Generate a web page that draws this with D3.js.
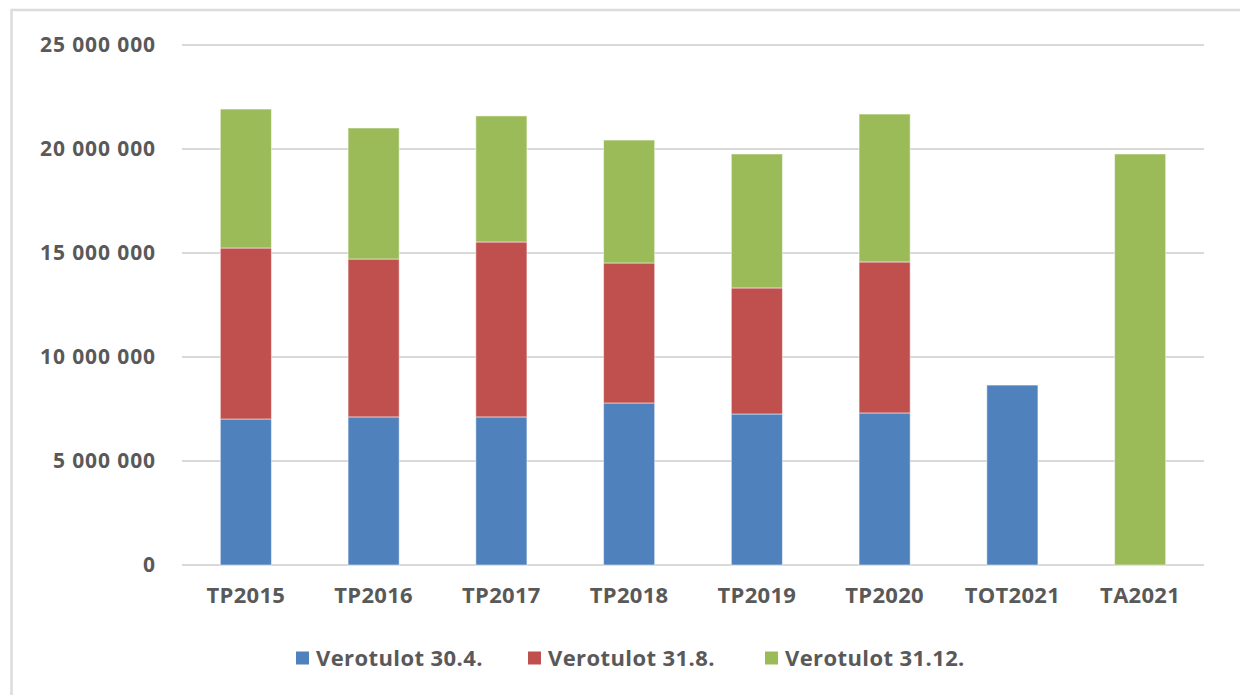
<!DOCTYPE html>
<html>
<head>
<meta charset="utf-8">
<script src="https://cdn.jsdelivr.net/npm/d3@7"></script>
<style>
  body { margin: 0; background: #fff; }
  text { font-family: "Open Sans", "Liberation Sans", sans-serif; font-weight: bold; fill: #595959; }
</style>
</head>
<body>
<div id="chart"></div>
<script>
var width = 1240,
    height = 695;

// data
var categories = ["TP2015", "TP2016", "TP2017", "TP2018", "TP2019", "TP2020", "TOT2021", "TA2021"];
var seriesNames = ["Verotulot 30.4.", "Verotulot 31.8.", "Verotulot 31.12."];
var april = [7020000, 7120000, 7120000, 7790000, 7260000, 7310000, 8650000, 0];
var august = [8220000, 7590000, 8410000, 6730000, 6060000, 7260000, 0, 0];
var december = [6680000, 6300000, 6060000, 5910000, 6440000, 7110000, 0, 19760000];
var yTicks = [0, 5000000, 10000000, 15000000, 20000000, 25000000];
var colors = ["#4F81BD", "#C0504D", "#9BBB59"];

var svg = d3.select("#chart")
      .append("svg")
      .attr("width", width)
      .attr("height", height);

// outer frame
svg.append("path")
  .attr("d", "M11.5," + height + "V10H" + width)
  .attr("fill", "none")
  .attr("stroke", "#dcdcdc")
  .attr("stroke-width", 2.5);

var x = d3.scaleBand()
    .domain(categories)
    .range([182, 1204])
    .paddingInner(0.6)
    .paddingOuter(0.3);

var y = d3.scaleLinear()
    .domain([0, 25000000])
    .range([565, 45]);

var fmt = function(d){
  return d3.format(",")(d).replace(/,/g, " ");
};

// gridlines
svg.append("g")
  .selectAll("line")
  .data(yTicks)
  .enter().append("line")
  .attr("x1", 182)
  .attr("x2", 1204)
  .attr("y1", function(d){ return y(d); })
  .attr("y2", function(d){ return y(d); })
  .attr("stroke", "#d9d9d9")
  .attr("stroke-width", 2);

svg.append("g")
  .selectAll("text")
  .data(yTicks)
  .enter().append("text")
  .attr("x", 156)
  .attr("y", function(d){ return y(d); })
  .attr("dy", "0.35em")
  .attr("text-anchor", "end")
  .style("font-size", "21px")
  .style("letter-spacing", "0.9px")
  .text(fmt);

// stacked bars
var rows = categories.map(function(c, i){
  return { cat: c, a: april[i], b: august[i], c: december[i] };
});
var stack = d3.stack().keys(["a", "b", "c"]);
var layers = stack(rows);

svg.append("g")
  .selectAll("g")
  .data(layers)
  .enter().append("g")
  .attr("fill", function(d, i){ return colors[i]; })
  .selectAll("rect")
  .data(function(d){ return d; })
  .enter().append("rect")
  .filter(function(d){ return d[1] > d[0]; })
  .attr("x", function(d){ return x(d.data.cat); })
  .attr("width", x.bandwidth())
  .attr("y", function(d){ return y(d[1]); })
  .attr("height", function(d){ return y(d[0]) - y(d[1]); })
  .attr("stroke", "#fff")
  .attr("stroke-opacity", 0.5)
  .attr("stroke-width", 1);

// x labels
svg.append("g")
  .selectAll("text")
  .data(categories)
  .enter().append("text")
  .attr("x", function(d){ return x(d) + x.bandwidth() / 2; })
  .attr("y", 595)
  .attr("dy", "0.35em")
  .attr("text-anchor", "middle")
  .style("font-size", "22px")
  .style("letter-spacing", "0.3px")
  .text(function(d){ return d; });

// legend
var legendX = [296, 528, 765];
seriesNames.forEach(function(name, i){
  var row = svg.append("g")
    .attr("transform", "translate(" + legendX[i] + ",658)");
  row.append("rect")
    .attr("x", 0)
    .attr("y", -6.5)
    .attr("width", 13)
    .attr("height", 13)
    .attr("fill", colors[i]);
  row.append("text")
    .attr("x", 20)
    .attr("y", 0)
    .attr("dy", "0.35em")
    .style("font-size", "22px")
    .style("letter-spacing", "0.4px")
    .text(name);
});
</script>
</body>
</html>
